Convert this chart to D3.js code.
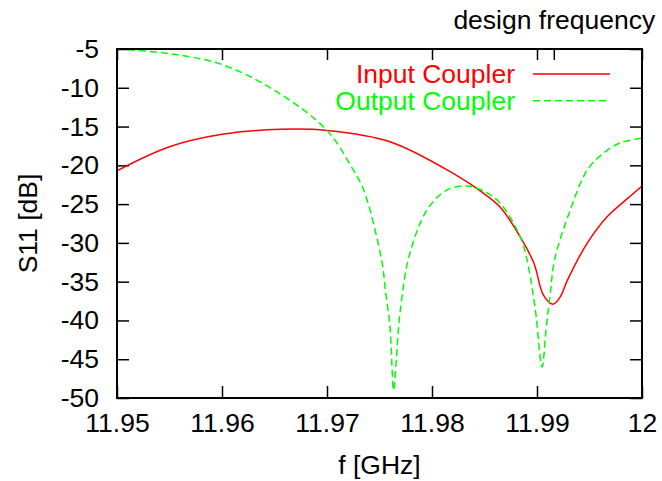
<!DOCTYPE html>
<html>
<head>
<meta charset="utf-8">
<script src="https://d3js.org/d3.v7.min.js"></script>
<style>
body { margin: 0; background: #fff; }
text { font-family: "Liberation Sans", Arial, Helvetica, sans-serif; font-size: 26.5px; fill: #000; }
.tick line { stroke: #000; stroke-width: 1.5; }
</style>
</head>
<body>
<script>
// S11 of input / output coupler vs frequency
var xTicks = [11.95, 11.96, 11.97, 11.98, 11.99, 12],
    yTicks = [-50, -45, -40, -35, -30, -25, -20, -15, -10, -5],
    designF = 11.9916; //top tick labelled "design frequency"

var inputF = [11.950, 11.955, 11.960, 11.9656, 11.970, 11.976, 11.9821, 11.9847, 11.9865,
              11.9883, 11.9897, 11.9906, 11.9915, 11.9922, 11.9929, 11.9948, 11.9967, 11.9986, 12.000],
    inputDb = [-20.7, -17.6, -16.0, -15.35, -15.5, -16.95, -21.1, -23.4, -25.4,
               -29.0, -32.6, -36.7, -37.9, -37.0, -34.8, -30.0, -26.6, -24.3, -22.66];

var outputF = [11.950, 11.955, 11.960, 11.9652, 11.970, 11.9725, 11.9735, 11.9752, 11.9756, 11.9760,
               11.97634, 11.9766, 11.97682, 11.97714, 11.9778, 11.9795, 11.9814, 11.9833, 11.9849, 11.9865,
               11.9884, 11.98905, 11.98984, 11.99048, 11.99089, 11.99127, 11.99167, 11.99317, 11.99479, 11.99636,
               11.99794, 12.000],
    outputDb = [-5.0, -5.6, -7.0, -10.5, -15.5, -20.6, -23.2, -32.2, -36.5, -40.8,
                -49.0, -45.1, -40.8, -37.0, -31.8, -25.8, -23.2, -22.66, -23.3, -24.9,
                -29.2, -32.2, -38.6, -46.0, -40.8, -36.5, -32.2, -25.75, -20.6, -18.4,
                -17.1, -16.5];

var series = [
    {name: "Input Coupler", color: "#ff0000", dash: null, f: inputF, db: inputDb},
    {name: "Output Coupler", color: "#00ff00", dash: "7,4", f: outputF, db: outputDb}
];

var margin = {top: 49, right: 20, bottom: 83, left: 117},
    width = 662 - margin.left - margin.right,
    height = 481 - margin.top - margin.bottom;

var x = d3.scaleLinear().domain([11.95, 12]).range([0, width]);
var y = d3.scaleLinear().domain([-50, -5]).range([height, 0]);

var svg = d3.select("body").append("svg")
    .attr("width", 662)
    .attr("height", 481)
    .append("g")
    .attr("transform", "translate(" + margin.left + "," + margin.top + ")");

svg.append("clipPath").attr("id", "clip")
    .append("rect").attr("width", width).attr("height", height);

function noDomain(g) { g.select(".domain").remove(); }

// bottom and left axes with labels, ticks pointing inward
svg.append("g")
    .attr("transform", "translate(0," + height + ")")
    .call(d3.axisBottom(x).tickValues(xTicks).tickSize(-12).tickPadding(15)
        .tickFormat(function (d) { return String(+d.toFixed(2)); }))
    .call(noDomain);

svg.append("g")
    .call(d3.axisLeft(y).tickValues(yTicks).tickSize(-12).tickPadding(18)
        .tickFormat(function (d) { return String(d); }))
    .call(noDomain);

// mirrored ticks on top and right
svg.append("g")
    .call(d3.axisTop(x).tickValues(xTicks).tickSize(-11).tickFormat(""))
    .call(noDomain);

svg.append("g")
    .attr("transform", "translate(" + width + ",0)")
    .call(d3.axisRight(y).tickValues(yTicks).tickSize(-12).tickFormat(""))
    .call(noDomain);

svg.append("g")
    .call(d3.axisTop(x).tickValues([designF]).tickSize(-11).tickPadding(20)
        .tickFormat(function () { return "design frequency"; }))
    .call(noDomain);

svg.selectAll(".tick text").style("font-size", "26.5px").style("fill", "#000");

var line = d3.line()
    .x(function (d) { return x(d[0]); })
    .y(function (d) { return y(d[1]); })
    .curve(d3.curveCatmullRom.alpha(0.5));

svg.append("g").attr("clip-path", "url(#clip)")
    .selectAll("path")
    .data(series)
    .enter().append("path")
    .attr("fill", "none")
    .attr("stroke", function (d) { return d.color; })
    .attr("stroke-width", 1.5)
    .attr("stroke-dasharray", function (d) { return d.dash; })
    .attr("d", function (d) { return line(d3.zip(d.f, d.db)); });

// frame
svg.append("rect")
    .attr("width", width)
    .attr("height", height)
    .attr("fill", "none")
    .attr("stroke", "#000")
    .attr("stroke-width", 2);

// legend
var legend = svg.selectAll(".legend")
    .data(series)
    .enter().append("g")
    .attr("class", "legend")
    .attr("transform", function (d, i) { return "translate(0," + (25 + i * 26.7) + ")"; });

legend.append("text")
    .attr("x", 398)
    .attr("y", 9)
    .attr("text-anchor", "end")
    .style("fill", function (d) { return d.color; })
    .text(function (d) { return d.name; });

legend.append("line")
    .attr("x1", 416)
    .attr("x2", 493)
    .attr("stroke", function (d) { return d.color; })
    .attr("stroke-width", 1.5)
    .attr("stroke-dasharray", function (d) { return d.dash; });

// axis titles
svg.append("text")
    .attr("x", width / 2)
    .attr("y", height + 76)
    .attr("text-anchor", "middle")
    .text("f [GHz]");

svg.append("text")
    .attr("transform", "translate(-80," + height / 2 + ") rotate(-90)")
    .attr("text-anchor", "middle")
    .text("S11 [dB]");
</script>
</body>
</html>
